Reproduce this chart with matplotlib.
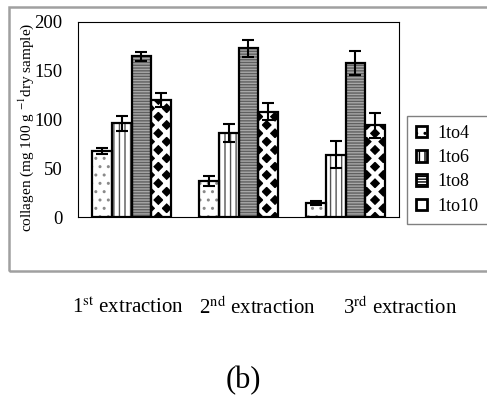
import matplotlib.pyplot as plt
import numpy as np
from matplotlib.patches import Patch, Rectangle

plt.rcParams["font.family"] = ["Liberation Serif", "DejaVu Serif"]
plt.rcParams["mathtext.fontset"] = "stix"
plt.rcParams["hatch.linewidth"] = 1.0

# ── data ─────────────────────────────────────────────────────────
extractions = ["1$^{\\rm st}$ extraction", "2$^{\\rm nd}$ extraction", "3$^{\\rm rd}$ extraction"]
ratios = ["1to4", "1to6", "1to8", "1to10"]
means = [
    [68, 37, 14],     # 1to4
    [96, 86, 64],     # 1to6
    [165, 173, 158],  # 1to8
    [120, 108, 94],   # 1to10
]
errors = [
    [3, 5.5, 2],
    [8, 9.5, 13.5],
    [4.5, 9, 12],
    [7.5, 9, 13],
]

# fill colour, hatch, hatch colour per series
styles = [
    ("white", "..", "#8a8a8a"),
    ("white", "|||", "#555555"),
    ("#a8a8a8", "------", "#606060"),
    ("black", "xx", "white"),
]

fig = plt.figure(figsize=(4.87, 4.08), dpi=100)
fig.patch.set_facecolor("white")

# outer grey frame
fig.patches.append(Rectangle((9 / 487, 1 - 271 / 408), 1.2, (271 - 7) / 408,
                             transform=fig.transFigure, fill=False,
                             edgecolor="#a0a0a0", lw=1.8, zorder=0))

ax = fig.add_axes([78 / 487, 1 - 217 / 408, (399 - 78) / 487, (217 - 22) / 408])

x = np.arange(len(extractions))
w = 0.184
for i, (m, e) in enumerate(zip(means, errors)):
    pos = x + (i - 1.5) * w
    fc, hatch, hc = styles[i]
    if i == 3:
        with plt.rc_context({"hatch.linewidth": 3.2}):
            ax.bar(pos, m, w, color=fc, hatch=hatch, edgecolor=hc, lw=0, zorder=2)
    else:
        ax.bar(pos, m, w, color=fc, hatch=hatch, edgecolor=hc, lw=0, zorder=2)
    ax.bar(pos, m, w, fill=False, edgecolor="black", lw=1.6, zorder=3)
    ax.errorbar(pos, m, yerr=e, fmt="none", ecolor="black", elinewidth=1.5,
                capsize=4, capthick=1.5, zorder=4)

ax.set_xlim(-0.5, 2.5)
ax.set_ylim(0, 200)
ax.set_yticks([0, 50, 100, 150, 200])
ax.set_xticks([])
ax.tick_params(axis="y", length=0, pad=11, labelsize=13.5)
for s in ax.spines.values():
    s.set_linewidth(0.8)

fig.text(26 / 487, 1 - 127 / 408, "collagen (mg 100 g $^{-1}$dry sample)",
         rotation=90, ha="center", va="center", fontsize=11)

# category labels below the frame
for lab, px in zip(extractions, [128, 257, 400]):
    fig.text(px / 487, 1 - 308 / 408, lab, ha="center", va="center", fontsize=15)

fig.text(243 / 487, 1 - 381 / 408, "(b)", ha="center", va="center", fontsize=22)

handles = [Patch(facecolor="white", hatch=h if i < 3 else "", edgecolor="black", lw=2)
           for i, (fc, h, hc) in enumerate(styles)]
fig.legend(handles, ratios, loc="upper left",
           bbox_to_anchor=(407 / 487, 1 - 116 / 408), fancybox=False,
           edgecolor="#808080", framealpha=1, fontsize=13,
           handlelength=0.6, handleheight=0.6, handletextpad=0.6,
           labelspacing=0.4, borderpad=0.5, borderaxespad=0)

fig.savefig("out.png", dpi=100)
